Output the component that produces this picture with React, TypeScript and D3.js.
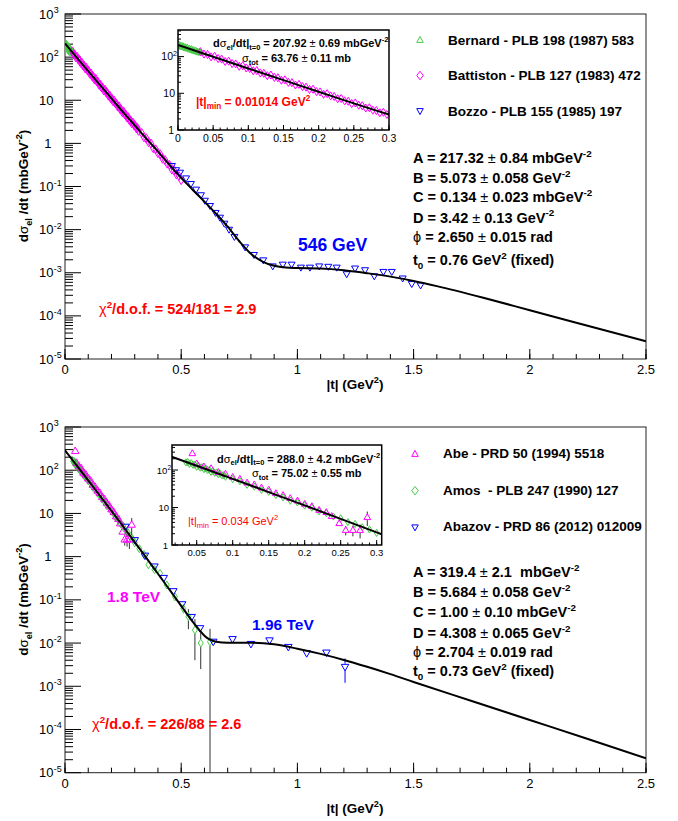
import React from 'react';
import * as d3 from 'd3';

type Pt = [number, number, number];
type Curve = [number, number][];
type Part = [string, string?];

const FONT = "'Liberation Sans', Arial, Helvetica, sans-serif";
const GREEN = '#48cc48';
const MAGENTA = '#ff00ff';
const BLUE = '#0000ff';
const RED = '#ff0000';
const ERR = '#333333';

// ---------------- 546 GeV ----------------
const bernard546: Pt[] = [
  [0.001, 217, 50], [0.0025, 194, 40], [0.004, 204, 38], [0.0055, 184, 32], [0.007, 197, 30], [0.0085, 180, 26],
  [0.010, 185, 24], [0.0115, 167, 20], [0.013, 180, 20], [0.0145, 163, 17], [0.016, 167, 16], [0.0175, 154, 14],
  [0.019, 163, 14], [0.0205, 150, 12], [0.022, 155, 12], [0.0235, 141, 10], [0.025, 149, 10], [0.0265, 136, 9],
  [0.028, 140, 9], [0.0295, 129, 8], [0.031, 135, 8], [0.0325, 126, 7],
];
const battiston546: Pt[] = [
  [0.032, 136, 5.4], [0.037, 117, 4.7], [0.042, 114, 4.6], [0.047, 98.4, 3.9], [0.052, 102, 4.1], [0.057, 88.5, 3.5],
  [0.062, 85.5, 3.4], [0.067, 74.0, 3.0], [0.072, 75.1, 3.0], [0.077, 64.4, 2.6], [0.082, 63.0, 2.5], [0.087, 54.5, 2.2],
  [0.092, 56.5, 2.3], [0.097, 49.0, 2.0], [0.102, 47.4, 1.9], [0.107, 41.0, 1.6], [0.112, 41.7, 1.7], [0.117, 35.8, 1.4],
  [0.122, 35.0, 1.4], [0.127, 30.2, 1.2], [0.132, 31.4, 1.3], [0.137, 27.2, 1.1], [0.142, 26.4, 1.1], [0.147, 22.8, 0.9],
  [0.152, 23.2, 0.9], [0.157, 19.9, 0.8], [0.162, 19.5, 0.8], [0.167, 16.8, 0.7], [0.172, 17.5, 0.7], [0.177, 15.2, 0.6],
  [0.182, 14.7, 0.6], [0.187, 12.7, 0.5], [0.192, 12.9, 0.5], [0.197, 11.1, 0.45], [0.202, 10.9, 0.44], [0.207, 9.41, 0.38],
  [0.212, 9.76, 0.39], [0.217, 8.48, 0.34], [0.222, 8.20, 0.33], [0.227, 7.11, 0.28], [0.232, 7.23, 0.29], [0.237, 6.21, 0.25],
  [0.242, 6.08, 0.24], [0.247, 5.25, 0.21], [0.252, 5.46, 0.22], [0.257, 4.74, 0.19], [0.262, 4.58, 0.18], [0.267, 3.97, 0.16],
  [0.272, 4.04, 0.16], [0.277, 3.47, 0.14], [0.282, 3.40, 0.14], [0.287, 2.94, 0.12], [0.292, 3.05, 0.12], [0.297, 2.65, 0.11],
  [0.302, 2.57, 0.10], [0.307, 2.23, 0.09], [0.312, 2.27, 0.09], [0.317, 1.95, 0.08], [0.33, 1.74, 0.07], [0.34, 1.38, 0.06],
  [0.35, 1.31, 0.05], [0.36, 1.06, 0.04], [0.37, 0.994, 0.04], [0.38, 0.772, 0.03], [0.39, 0.726, 0.03], [0.40, 0.593, 0.024],
  [0.41, 0.556, 0.022], [0.42, 0.440, 0.018], [0.43, 0.414, 0.017], [0.44, 0.338, 0.014], [0.45, 0.314, 0.013], [0.46, 0.247, 0.01],
  [0.47, 0.232, 0.01], [0.48, 0.189, 0.008], [0.49, 0.176, 0.007], [0.50, 0.141, 0.006],
];
const bozzo546: Pt[] = [
  [0.46, 0.30, 0.015], [0.478, 0.24, 0.012], [0.495, 0.21, 0.01], [0.521, 0.155, 0.008], [0.542, 0.115, 0.006],
  [0.564, 0.085, 0.004], [0.585, 0.063, 0.003], [0.602, 0.047, 0.0025], [0.624, 0.0355, 0.002], [0.648, 0.0245, 0.0013],
  [0.667, 0.019, 0.001], [0.686, 0.0138, 0.0008], [0.706, 0.010, 0.0006], [0.729, 0.0068, 0.0004], [0.775, 0.0039, 0.00025],
  [0.813, 0.0026, 0.0002], [0.853, 0.00195, 0.00015], [0.894, 0.00141, 0.00012], [0.937, 0.00155, 0.00012],
  [0.975, 0.00155, 0.00012], [1.015, 0.00132, 0.0001], [1.054, 0.00132, 0.0001], [1.094, 0.00141, 0.0001],
  [1.133, 0.00138, 0.0001], [1.169, 0.00132, 0.0001], [1.212, 0.00093, 0.00008], [1.248, 0.00126, 0.0001],
  [1.291, 0.00115, 0.0001], [1.331, 0.00083, 0.00008], [1.370, 0.00105, 0.00009], [1.406, 0.00105, 0.00009],
  [1.453, 0.00074, 0.00007], [1.492, 0.00055, 0.00006], [1.530, 0.00051, 0.00006],
];
const fit546: Curve = [
  [0, 208], [0.05, 99.1], [0.1, 47.4], [0.15, 22.8], [0.2, 11.0], [0.25, 5.30], [0.3, 2.63], [0.35, 1.29],
  [0.4, 0.646], [0.45, 0.316], [0.5, 0.158], [0.55, 0.0832], [0.6, 0.0447], [0.65, 0.0234], [0.7, 0.0117],
  [0.75, 0.00537], [0.8, 0.00275], [0.85, 0.00182], [0.9, 0.00145], [0.95, 0.00132], [1.0, 0.00129],
  [1.1, 0.00126], [1.2, 0.00115], [1.3, 0.000977], [1.4, 0.000813], [1.5, 0.000646], [1.6, 0.00049],
  [1.8, 0.000263], [2.0, 0.000135], [2.2, 6.92e-5], [2.5, 2.57e-5],
];

// ---------------- 1.8 / 1.96 TeV ----------------
const abe1800: Pt[] = [
  [0.044, 279, 14], [0.05, 149, 6], [0.06, 124, 5], [0.07, 111, 4.5], [0.08, 88, 3.5], [0.09, 79, 3.2],
  [0.10, 65, 2.6], [0.11, 58, 2.3], [0.12, 46, 1.9], [0.13, 41, 1.7], [0.14, 34, 1.4], [0.15, 30, 1.3],
  [0.16, 24, 1.1], [0.17, 21.4, 1.0], [0.18, 17.7, 0.9], [0.19, 15.3, 0.8], [0.20, 12.5, 0.7], [0.21, 10.8, 0.7],
  [0.22, 8.6, 0.6], [0.23, 7.5, 0.6], [0.2375, 5.9, 0.6], [0.248, 3.8, 0.6], [0.257, 2.5, 0.7], [0.267, 2.5, 0.8],
  [0.277, 2.5, 1.0], [0.287, 5.5, 2.3],
];
const amos1800: Pt[] = [
  [0.035, 160, 30], [0.0375, 163, 30], [0.04, 146, 27], [0.0425, 152, 27], [0.045, 138, 25], [0.0475, 138, 25],
  [0.05, 123, 22], [0.0525, 130, 22], [0.055, 116, 20], [0.0575, 119, 20], [0.06, 106, 18], [0.0625, 110, 18],
  [0.065, 100, 16], [0.0675, 100, 16], [0.07, 89.5, 14], [0.0725, 94.1, 14], [0.075, 84.3, 12], [0.0775, 86.0, 12],
  [0.08, 77.0, 11], [0.0825, 80.1, 11], [0.085, 72.5, 9], [0.0875, 72.5, 9], [0.09, 66.3, 8],
  [0.10, 57.0, 2.3], [0.11, 50.4, 2], [0.12, 40.3, 1.7], [0.13, 36.1, 1.5], [0.14, 29.4, 1.2], [0.15, 26.3, 1.1],
  [0.16, 21.5, 0.9], [0.17, 18.6, 0.8], [0.18, 15.2, 0.7], [0.19, 13.7, 0.6], [0.20, 11.3, 0.5], [0.21, 9.95, 0.45],
  [0.22, 7.94, 0.4], [0.23, 7.07, 0.35], [0.24, 5.76, 0.3], [0.25, 5.14, 0.3], [0.26, 4.09, 0.25], [0.27, 3.64, 0.22],
  [0.28, 2.97, 0.2], [0.29, 2.59, 0.18], [0.30, 2.10, 0.15], [0.32, 1.52, 0.12], [0.34, 1.12, 0.1],
  [0.359, 0.65, 0.07], [0.385, 0.50, 0.05], [0.409, 0.41, 0.04], [0.438, 0.22, 0.03], [0.473, 0.117, 0.02],
  [0.509, 0.063, 0.015], [0.531, 0.041, 0.02], [0.559, 0.020, 0.016], [0.584, 0.010, 0.0075], [0.624, 0.0107, 0.0107],
];
const abazov1960: Pt[] = [
  [0.26, 4.9, 0.3], [0.30, 2.4, 0.15], [0.344, 1.05, 0.07], [0.385, 0.59, 0.04], [0.425, 0.32, 0.02],
  [0.466, 0.158, 0.012], [0.504, 0.079, 0.006], [0.545, 0.040, 0.004], [0.581, 0.022, 0.003], [0.638, 0.0107, 0.0015],
  [0.721, 0.0123, 0.0015], [0.80, 0.0095, 0.0012], [0.88, 0.0115, 0.0013], [0.961, 0.0081, 0.0011],
  [1.04, 0.0058, 0.0009], [1.125, 0.006, 0.001], [1.205, 0.0028, 0.0016],
];
const fit1800: Curve = [
  [0, 288], [0.05, 130], [0.1, 58.1], [0.15, 25.8], [0.2, 11.4], [0.25, 4.99], [0.3, 2.17], [0.35, 0.935],
  [0.4, 0.402], [0.45, 0.171], [0.5, 0.0724], [0.55, 0.0309], [0.58, 0.0195], [0.6, 0.0148], [0.62, 0.0123],
  [0.65, 0.0107], [0.7, 0.0102], [0.8, 0.0102], [0.9, 0.00933], [1.0, 0.00741], [1.1, 0.00562], [1.2, 0.00407],
  [1.3, 0.00282], [1.4, 0.00191], [1.5, 0.00126], [1.75, 0.000457], [2.0, 0.000166], [2.25, 6.03e-5], [2.5, 2.14e-5],
];

// ---------------- ticks & texts ----------------
const xMainTicks = [0, 0.5, 1, 1.5, 2, 2.5];
const xMainLabels = ['0', '0.5', '1', '1.5', '2', '2.5'];
const yDecades = [-5, -4, -3, -2, -1, 0, 1, 2, 3];
const insetXTicks = [0, 0.05, 0.1, 0.15, 0.2, 0.25, 0.3];
const insetXLabels = ['0', '0.05', '0.1', '0.15', '0.2', '0.25', '0.3'];
const insetDecades = [0, 1, 2];

const legend546 = ['Bernard - PLB 198 (1987) 583', 'Battiston - PLB 127 (1983) 472', 'Bozzo - PLB 155 (1985) 197'];
const legend1800 = ['Abe - PRD 50 (1994) 5518', 'Amos  - PLB 247 (1990) 127', 'Abazov - PRD 86 (2012) 012009'];

const params546: Part[][] = [
  [['A = 217.32 '], ['±', 'n'], [' 0.84 mbGeV'], ['-2', 'sup']],
  [['B = 5.073 '], ['±', 'n'], [' 0.058 GeV'], ['-2', 'sup']],
  [['C = 0.134 '], ['±', 'n'], [' 0.023 mbGeV'], ['-2', 'sup']],
  [['D = 3.42 '], ['±', 'n'], [' 0.13 GeV'], ['-2', 'sup']],
  [['ϕ', 'n'], [' = 2.650 '], ['±', 'n'], [' 0.015 rad']],
  [['t'], ['0', 'sub'], [' = 0.76 GeV'], ['2', 'sup'], [' (fixed)']],
];
const params1800: Part[][] = [
  [['A = 319.4 '], ['±', 'n'], [' 2.1  mbGeV'], ['-2', 'sup']],
  [['B = 5.684 '], ['±', 'n'], [' 0.058 GeV'], ['-2', 'sup']],
  [['C = 1.00 '], ['±', 'n'], [' 0.10 mbGeV'], ['-2', 'sup']],
  [['D = 4.308 '], ['±', 'n'], [' 0.065 GeV'], ['-2', 'sup']],
  [['ϕ', 'n'], [' = 2.704 '], ['±', 'n'], [' 0.019 rad']],
  [['t'], ['0', 'sub'], [' = 0.73 GeV'], ['2', 'sup'], [' (fixed)']],
];

function Rich({ x, y, size, parts, weight = 'bold', fill = '#000', anchor = 'start', transform }: any) {
  let cur = 0;
  const spans = parts.map((p: Part, i: number) => {
    const m = p[1] || '';
    const target = m === 'sup' ? -0.42 * size : m === 'sub' ? 0.26 * size : 0;
    const dy = target - cur;
    cur = target;
    const fs = m === 'sup' || m === 'sub' ? size * 0.68 : size;
    const fw = m === 'n' ? 'normal' : undefined;
    return (
      <tspan key={i} dy={dy} fontSize={fs} fontWeight={fw}>
        {p[0]}
      </tspan>
    );
  });
  return (
    <text x={x} y={y} fontSize={size} fontWeight={weight} fill={fill} textAnchor={anchor} fontFamily={FONT}
      transform={transform} style={{ whiteSpace: 'pre' }}>
      {spans}
    </text>
  );
}

function markerD(shape: string, cx: number, cy: number, w: number, h: number) {
  if (shape === 'up') return `M${cx},${cy - h * 0.6}L${cx + w / 2},${cy + h * 0.4}L${cx - w / 2},${cy + h * 0.4}Z`;
  if (shape === 'down') return `M${cx},${cy + h * 0.6}L${cx + w / 2},${cy - h * 0.4}L${cx - w / 2},${cy - h * 0.4}Z`;
  return `M${cx},${cy - h / 2}L${cx + w / 2},${cy}L${cx},${cy + h / 2}L${cx - w / 2},${cy}Z`;
}

function Points({ set, x, y, yFloor, scale = 1 }: any) {
  const w = set.w * scale, h = set.h * scale;
  return (
    <g>
      {set.data.map(([t, v, e]: Pt, i: number) => {
        const cx = x(t), cy = y(v);
        const hi = y(v + e);
        const lo = v - e > 0 ? y(v - e) : yFloor;
        const ec = set.errBig && e / v > 0.3 ? set.errBig : set.err;
        return (
          <g key={i}>
            {hi < cy - h / 2 && <line x1={cx} x2={cx} y1={hi} y2={cy - h / 2} stroke={ec} strokeWidth={1} />}
            {lo > cy + h / 2 && <line x1={cx} x2={cx} y1={cy + h / 2} y2={lo} stroke={ec} strokeWidth={1} />}
            <path d={markerD(set.shape, cx, cy, w, h)} fill="none" stroke={set.color} strokeWidth={1} />
          </g>
        );
      })}
    </g>
  );
}

function Inset({ c, fit, sets, id }: any) {
  const x = d3.scaleLinear().domain(c.xDomain).range([c.x0, c.x1]);
  const y = d3.scaleLog().domain(c.yDomain).range([c.y1, c.y0]);
  const line = d3.line<[number, number]>().x((d) => x(d[0])).y((d) => y(d[1])).curve(d3.curveMonotoneX);
  const minors: number[] = [];
  insetDecades.forEach((k) => {
    for (let m = 2; m <= 9; m++) {
      const v = m * Math.pow(10, k);
      if (v <= c.yDomain[1]) minors.push(v);
    }
  });
  const xMinor = d3.range(0, 0.3001, 0.01).filter((t) => t >= c.xDomain[0] && t <= c.xDomain[1]);
  const ls = c.labelSize;
  return (
    <g>
      <defs>
        <clipPath id={id}>
          <rect x={c.x0} y={c.y0} width={c.x1 - c.x0} height={c.y1 - c.y0} />
        </clipPath>
      </defs>
      <rect x={c.x0} y={c.y0} width={c.x1 - c.x0} height={c.y1 - c.y0} fill="#fff" />
      <g clipPath={`url(#${id})`}>
        {sets.map((s: any, i: number) => (
          <Points key={i} set={s} x={x} y={y} yFloor={c.y1 + 5} scale={0.9} />
        ))}
        <path d={line(fit) || ''} fill="none" stroke="#000" strokeWidth={2} />
      </g>
      {insetDecades.map((k) => (
        <line key={'m' + k} x1={c.x0} x2={c.x0 + 6} y1={y(Math.pow(10, k))} y2={y(Math.pow(10, k))} stroke="#000" />
      ))}
      {minors.map((v, i) => (
        <line key={'n' + i} x1={c.x0} x2={c.x0 + 3} y1={y(v)} y2={y(v)} stroke="#000" />
      ))}
      {xMinor.map((t, i) => (
        <line key={'xm' + i} x1={x(t)} x2={x(t)} y1={c.y1} y2={c.y1 - 2.5} stroke="#000" />
      ))}
      {insetXTicks.map((t, i) =>
        t >= c.xDomain[0] && t <= c.xDomain[1] ? (
          <g key={'xt' + i}>
            <line x1={x(t)} x2={x(t)} y1={c.y1} y2={c.y1 - 5} stroke="#000" />
            <text x={x(t)} y={c.y1 + ls + 1} fontSize={ls} textAnchor="middle" fontFamily={FONT}>
              {insetXLabels[i]}
            </text>
          </g>
        ) : null
      )}
      <text x={c.x0 - 4} y={y(1) + 3.5} fontSize={ls} textAnchor="end" fontFamily={FONT}>1</text>
      <text x={c.x0 - 3} y={y(10) + 3.5} fontSize={ls} textAnchor="end" fontFamily={FONT}>10</text>
      <Rich x={c.x0 - 1} y={y(100) + 3.5} size={ls} weight="normal" anchor="end" parts={[['10'], ['2', 'sup']]} />
      <rect x={c.x0} y={c.y0} width={c.x1 - c.x0} height={c.y1 - c.y0} fill="none" stroke="#000" strokeWidth={1.5} />
      {c.texts.map((tx: any, i: number) => (
        <Rich key={'t' + i} x={tx.x} y={tx.y} size={tx.size} weight={tx.weight || 'bold'} fill={tx.fill || '#000'} parts={tx.parts} />
      ))}
    </g>
  );
}

function Panel({ c }: any) {
  const X0 = 65, X1 = 646;
  const x = d3.scaleLinear().domain([0, 2.5]).range([X0, X1]);
  const y = d3.scaleLog().domain([1e-5, 1e3]).range([c.bottom, c.top]);
  const line = d3.line<[number, number]>().x((d) => x(d[0])).y((d) => y(d[1])).curve(d3.curveMonotoneX);
  const minors: number[] = [];
  yDecades.slice(0, -1).forEach((k) => {
    for (let m = 2; m <= 9; m++) minors.push(m * Math.pow(10, k));
  });
  const xMinor = d3.range(0, 2.501, 0.1);
  return (
    <g>
      <defs>
        <clipPath id={c.id}>
          <rect x={X0} y={c.top} width={X1 - X0} height={c.bottom - c.top} />
        </clipPath>
      </defs>
      <rect x={X0} y={c.top} width={X1 - X0} height={c.bottom - c.top} fill="none" stroke="#222" strokeWidth={1} />
      {yDecades.map((k) => (
        <line key={'yM' + k} x1={X0} x2={X0 + 16} y1={y(Math.pow(10, k))} y2={y(Math.pow(10, k))} stroke="#000" />
      ))}
      {minors.map((v, i) => (
        <line key={'ym' + i} x1={X0} x2={X0 + 8} y1={y(v)} y2={y(v)} stroke="#000" />
      ))}
      {yDecades.map((k) => {
        const yy = y(Math.pow(10, k)) + 4.5;
        if (k === 0) return <text key={'yl' + k} x={51.5} y={yy} fontSize={13} textAnchor="end" fontFamily={FONT}>1</text>;
        if (k === 1) return <text key={'yl' + k} x={53.5} y={yy} fontSize={13} textAnchor="end" fontFamily={FONT}>10</text>;
        return (
          <g key={'yl' + k}>
            <text x={53.5} y={yy} fontSize={13} textAnchor="end" fontFamily={FONT}>10</text>
            <text x={53.8} y={yy - 5.5} fontSize={9} fontFamily={FONT}>{String(k)}</text>
          </g>
        );
      })}
      {xMinor.map((t, i) => (
        <line key={'xm' + i} x1={x(t)} x2={x(t)} y1={c.bottom} y2={c.bottom - 5} stroke="#000" />
      ))}
      {xMainTicks.map((t, i) => (
        <g key={'xt' + i}>
          <line x1={x(t)} x2={x(t)} y1={c.bottom} y2={c.bottom - 10} stroke="#000" />
          <text x={x(t)} y={c.bottom + 15} fontSize={13} textAnchor="middle" fontFamily={FONT}>{xMainLabels[i]}</text>
        </g>
      ))}
      <g clipPath={`url(#${c.id})`}>
        {c.sets.map((s: any, i: number) => (
          <Points key={i} set={s} x={x} y={y} yFloor={c.bottom + 5} />
        ))}
        <path d={line(c.fit) || ''} fill="none" stroke="#000" strokeWidth={2} />
      </g>
      <Inset c={c.inset} fit={c.fit} sets={c.insetSets} id={c.id + 'in'} />
      {c.legend.map((txt: string, i: number) => {
        const s = c.sets[c.legendOrder[i]];
        return (
          <g key={'lg' + i}>
            <path d={markerD(s.shape, c.legMx, c.legMy[i], 6.5, s.shape === 'diamond' ? 8.5 : 6)} fill="none" stroke={s.color} strokeWidth={1} />
            <text x={c.legTx} y={c.legTy[i]} fontSize={13.5} fontWeight="bold" fontFamily={FONT} style={{ whiteSpace: 'pre' }}>{txt}</text>
          </g>
        );
      })}
      {c.params.map((p: Part[], i: number) => (
        <Rich key={'pa' + i} x={413} y={c.paramY[i]} size={14.5} parts={p} />
      ))}
      <Rich x={c.energy.x} y={c.energy.y} size={c.energy.size} fill={c.energy.color} parts={[[c.energy.text]]} />
      {c.extraEnergy && (
        <Rich x={c.extraEnergy.x} y={c.extraEnergy.y} size={c.extraEnergy.size} fill={c.extraEnergy.color} parts={[[c.extraEnergy.text]]} />
      )}
      <Rich x={c.chi.x} y={c.chi.y} size={14.5} fill={RED} parts={[['χ', 'n'], ['2', 'sup'], [c.chi.text]]} />
      <Rich x={0} y={0} size={13.5} anchor="middle" transform={`translate(28,${c.ytitleY}) rotate(-90)`}
        parts={[['d'], ['σ', 'n'], ['el', 'sub'], [' /dt (mbGeV'], ['-2', 'sup'], [')']]} />
      <Rich x={355} y={c.xtitleY} size={13.5} anchor="middle" parts={[['|t| (GeV'], ['2', 'sup'], [')']]} />
    </g>
  );
}

const setsFor546 = [
  { data: bernard546, shape: 'up', color: GREEN, err: GREEN, w: 7, h: 6 },
  { data: battiston546, shape: 'diamond', color: MAGENTA, err: MAGENTA, w: 5.5, h: 9 },
  { data: bozzo546, shape: 'down', color: BLUE, err: BLUE, w: 7, h: 6 },
];
const setsFor1800 = [
  { data: amos1800, shape: 'diamond', color: GREEN, err: GREEN, errBig: ERR, w: 5, h: 8 },
  { data: abe1800, shape: 'up', color: MAGENTA, err: ERR, w: 7.5, h: 6.5 },
  { data: abazov1960, shape: 'down', color: BLUE, err: BLUE, w: 7.5, h: 6.5 },
];

const topCfg = {
  id: 'p546', top: 14, bottom: 359, fit: fit546, sets: setsFor546,
  insetSets: setsFor546.slice(0, 2),
  inset: {
    x0: 178, x1: 389, y0: 30, y1: 130, xDomain: [0, 0.3], yDomain: [1, 530], labelSize: 10.5,
    texts: [
      { x: 213, y: 47, size: 11, parts: [['d'], ['σ', 'n'], ['el', 'sub'], ['/dt|'], ['t=0', 'sub'], [' = 207.92 '], ['±', 'n'], [' 0.69 mbGeV'], ['-2', 'sup']] },
      { x: 242, y: 62, size: 11, parts: [['σ', 'n'], ['tot', 'sub'], [' = 63.76 '], ['±', 'n'], [' 0.11 mb']] },
      { x: 196, y: 106, size: 12, fill: RED, parts: [['|t|'], ['min', 'sub'], [' = 0.01014 GeV'], ['2', 'sup']] },
    ],
  },
  legend: legend546, legendOrder: [0, 1, 2], legMx: 420, legMy: [40, 75.5, 111], legTx: 448, legTy: [44.5, 80, 115.5],
  params: params546, paramY: [163.3, 182.7, 202, 222.5, 242, 265],
  energy: { x: 298, y: 251, size: 17.5, color: BLUE, text: '546 GeV' },
  chi: { x: 99, y: 314, text: '/d.o.f. = 524/181 = 2.9' },
  ytitleY: 186, xtitleY: 389,
};

const botCfg = {
  id: 'p1800', top: 427, bottom: 772.7, fit: fit1800, sets: setsFor1800,
  insetSets: setsFor1800.slice(0, 2),
  inset: {
    x0: 172, x1: 381.7, y0: 445, y1: 545, xDomain: [0.0157, 0.307], yDomain: [1, 465], labelSize: 9.5,
    texts: [
      { x: 217, y: 462.5, size: 11, parts: [['d'], ['σ', 'n'], ['el', 'sub'], ['/dt|'], ['t=0', 'sub'], [' = 288.0 '], ['±', 'n'], [' 4.2 mbGeV'], ['-2', 'sup']] },
      { x: 252, y: 477, size: 11, parts: [['σ', 'n'], ['tot', 'sub'], [' = 75.02 '], ['±', 'n'], [' 0.55 mb']] },
      { x: 188, y: 525, size: 11, weight: 'normal', fill: RED, parts: [['|t|'], ['min', 'sub'], [' = 0.034 GeV'], ['2', 'sup']] },
    ],
  },
  legend: legend1800, legendOrder: [1, 0, 2], legMx: 415, legMy: [454, 490.7, 527.3], legTx: 443, legTy: [458.3, 495, 530.5],
  params: params1800, paramY: [576.7, 596.7, 617.3, 638.3, 656.5, 676],
  energy: { x: 107, y: 601.7, size: 15.5, color: MAGENTA, text: '1.8 TeV' },
  extraEnergy: { x: 252, y: 630, size: 15.5, color: BLUE, text: '1.96 TeV' },
  chi: { x: 92, y: 729.3, text: '/d.o.f. = 226/88 = 2.6' },
  ytitleY: 599.5, xtitleY: 813,
};

export default function App() {
  return (
    <svg width={678} height={821} style={{ position: 'absolute', left: 0, top: 0, background: '#fff' }} fontFamily={FONT}>
      <rect x={0} y={0} width={678} height={821} fill="#fff" />
      <Panel c={topCfg} />
      <Panel c={botCfg} />
    </svg>
  );
}
